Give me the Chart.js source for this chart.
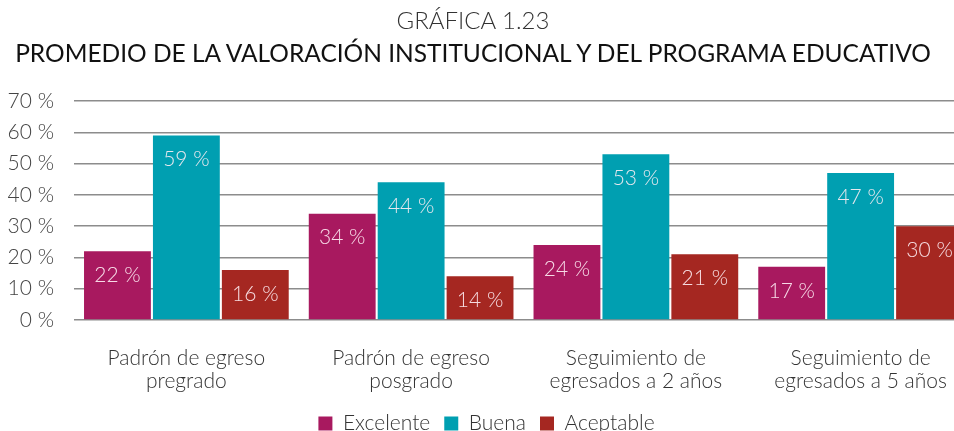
<!DOCTYPE html>
<html>
<head>
<meta charset="utf-8">
<script src="https://cdn.jsdelivr.net/npm/chart.js@4"></script>
<style>
    html, body { margin: 0; padding: 0; background: #fff; overflow: hidden; }
    #wrap { position: relative; width: 976px; height: 444px; }
    .ttl { position: absolute; left: -200px; width: 1346px; text-align: center; font-family: Lato, "Open Sans", sans-serif; white-space: nowrap; }
    #t1 { top: 6px; font-size: 24px; font-weight: 300; color: #333; line-height: 28px; }
    #t2 { top: 39px; font-size: 24.5px; font-weight: 400; color: #111; line-height: 28px; }
</style>
</head>
<body>
<div id="wrap">
    <div class="ttl" id="t1">GRÁFICA 1.23</div>
    <div class="ttl" id="t2">PROMEDIO DE LA VALORACIÓN INSTITUCIONAL Y DEL PROGRAMA EDUCATIVO</div>
    <canvas id="barChart" width="976" height="444"></canvas>
</div>
<script>
// Data
const categories = [
    ['Padrón de egreso', 'pregrado'],
    ['Padrón de egreso', 'posgrado'],
    ['Seguimiento de', 'egresados a 2 años'],
    ['Seguimiento de', 'egresados a 5 años']
];
const excelente = [22, 34, 24, 17];
const buena = [59, 44, 53, 47];
const aceptable = [16, 14, 21, 30];
const seriesNames = ['Excelente', 'Buena', 'Aceptable'];

const FONT = 'Lato, "Open Sans", sans-serif';

// Value labels drawn inside the bars, near the top
const valueLabels = {
    id: 'valueLabels',
    afterDatasetsDraw(chart) {
        const ctx = chart.ctx;
        ctx.save();
        ctx.font = '300 21px ' + FONT;
        ctx.fillStyle = 'rgba(255, 240, 245, 0.9)';
        ctx.textAlign = 'center';
        ctx.textBaseline = 'middle';
        chart.data.datasets.forEach((ds, i) => {
            chart.getDatasetMeta(i).data.forEach((bar, j) => {
                ctx.fillText(ds.data[j] + ' %', bar.x, bar.y + 24);
            });
        });
        ctx.restore();
    }
};

document.addEventListener('DOMContentLoaded', function() {
    const ctx = document.getElementById('barChart').getContext('2d');

    new Chart(ctx, {
        type: 'bar',
        data: {
            labels: categories,
            datasets: [
                { label: seriesNames[0], data: excelente, backgroundColor: '#a8195f' },
                { label: seriesNames[1], data: buena, backgroundColor: '#009fb1' },
                { label: seriesNames[2], data: aceptable, backgroundColor: '#a52721' }
            ]
        },
        options: {
            responsive: false,
            animation: false,
            categoryPercentage: 0.92,
            barPercentage: 0.97,
            layout: { padding: { left: 0, right: 3, top: 101, bottom: 0 } },
            scales: {
                x: {
                    afterFit: function(scale) { scale.height = 79; },
                    grid: { display: false },
                    border: { display: false },
                    ticks: {
                        color: '#333',
                        font: { family: FONT, size: 21, weight: '300', lineHeight: 1.08 },
                        padding: 19,
                        maxRotation: 0
                    }
                },
                y: {
                    min: 0,
                    max: 70,
                    afterFit: function(scale) { scale.width = 74; },
                    grid: { color: '#8c8c8c', lineWidth: 1.5, drawTicks: false },
                    border: { display: false },
                    ticks: {
                        stepSize: 10,
                        padding: 20,
                        color: '#444',
                        font: { family: FONT, size: 21, weight: '300' },
                        callback: v => v + ' %'
                    }
                }
            },
            plugins: {
                legend: {
                    position: 'bottom',
                    labels: {
                        boxWidth: 14,
                        boxHeight: 14,
                        padding: 14,
                        color: '#333',
                        font: { family: FONT, size: 21, weight: '300' }
                    }
                },
                tooltip: { enabled: false }
            }
        },
        plugins: [valueLabels]
    });
});
</script>
</body>
</html>
